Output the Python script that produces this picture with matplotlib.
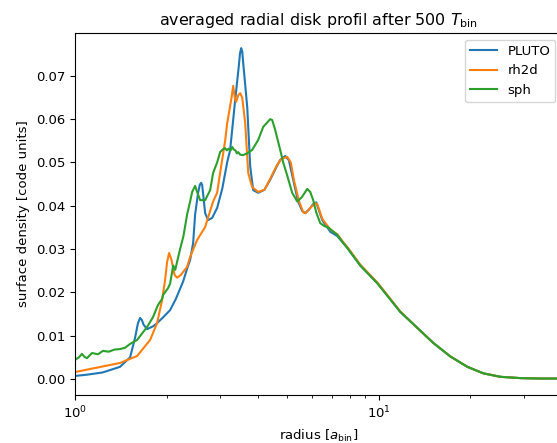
import matplotlib
matplotlib.use("Agg")
import matplotlib.pyplot as plt

# PLUTO
r_pluto = [1.0, 1.097, 1.232, 1.406, 1.518, 1.576, 1.61, 1.637, 1.66, 1.679,
           1.726, 1.810, 1.862, 1.934, 2.055, 2.147, 2.268, 2.338, 2.392,
           2.447, 2.484, 2.541, 2.575, 2.600, 2.62, 2.639, 2.680, 2.742,
           2.826, 2.935, 3.052, 3.166, 3.239, 3.364, 3.455, 3.49, 3.522,
           3.55, 3.575, 3.686, 3.771, 3.857, 4.006, 4.200, 4.386, 4.602,
           4.732, 4.916, 5.054, 5.222, 5.417, 5.590, 5.719, 5.898, 6.076,
           6.216, 6.506, 6.914, 7.291, 7.628, 7.863, 8.679, 9.872, 11.75,
           13.37, 15.10, 17.17, 19.54, 22.05, 25.08, 29.19, 33.97, 40.0]
s_pluto = [0.0007, 0.0010, 0.0015, 0.0028, 0.0050, 0.0095, 0.0128, 0.0141,
           0.0136, 0.0126, 0.0115, 0.0122, 0.0129, 0.0140, 0.0159, 0.0185,
           0.0225, 0.0255, 0.0275, 0.0314, 0.0380, 0.0430, 0.0449, 0.0453,
           0.0448, 0.0428, 0.0383, 0.0367, 0.0372, 0.0395, 0.0440, 0.0500,
           0.0529, 0.0644, 0.0720, 0.0752, 0.0764, 0.0756, 0.0730, 0.0628,
           0.0490, 0.0436, 0.0430, 0.0437, 0.0460, 0.0490, 0.0506, 0.0515,
           0.0505, 0.0460, 0.0410, 0.0388, 0.0383, 0.0392, 0.0404, 0.0408,
           0.0367, 0.0340, 0.0330, 0.0314, 0.0303, 0.0262, 0.0222, 0.0155,
           0.0118, 0.0083, 0.0052, 0.0028, 0.0013, 0.0005, 0.0002, 0.0001,
           0.0001]

# rh2d
r_rh2d = [1.0, 1.406, 1.600, 1.766, 1.862, 1.934, 1.979, 2.009, 2.040,
          2.077, 2.127, 2.167, 2.228, 2.338, 2.392, 2.522, 2.680, 2.847,
          2.935, 3.002, 3.118, 3.166, 3.274, 3.314, 3.354, 3.390, 3.442,
          3.495, 3.548, 3.630, 3.714, 3.827, 4.006, 4.200, 4.386, 4.602,
          4.767, 4.989, 5.130, 5.247, 5.460, 5.633, 5.737, 5.940, 6.169,
          6.263, 6.506, 6.914, 7.291, 7.628, 7.863, 8.679, 9.872, 11.75,
          13.37, 15.10, 17.17, 19.54, 22.05, 25.08, 29.19, 33.97, 40.0]
s_rh2d = [0.0016, 0.0037, 0.0053, 0.0090, 0.0129, 0.0182, 0.0229, 0.0270,
          0.0291, 0.0275, 0.0240, 0.0234, 0.0240, 0.0259, 0.0282, 0.0321,
          0.0351, 0.0410, 0.0430, 0.0476, 0.0550, 0.0590, 0.0650, 0.0677,
          0.0650, 0.0640, 0.0655, 0.0660, 0.0650, 0.0591, 0.0476, 0.0443,
          0.0432, 0.0437, 0.0462, 0.0492, 0.0508, 0.0513, 0.0500, 0.0460,
          0.0410, 0.0385, 0.0383, 0.0395, 0.0406, 0.0404, 0.0370, 0.0345,
          0.0334, 0.0316, 0.0305, 0.0264, 0.0223, 0.0156, 0.0118, 0.0083,
          0.0052, 0.0028, 0.0013, 0.0005, 0.0002, 0.0001, 0.0001]

# sph
r_sph = [1.0, 1.03, 1.054, 1.075, 1.095, 1.138, 1.19, 1.236, 1.29, 1.35,
         1.406, 1.46, 1.518, 1.600, 1.726, 1.806, 1.862, 1.876, 1.934,
         1.949, 2.024, 2.055, 2.104, 2.136, 2.217, 2.274, 2.338, 2.392,
         2.429, 2.484, 2.513, 2.580, 2.680, 2.783, 2.847, 2.935, 3.002,
         3.060, 3.118, 3.160, 3.202, 3.244, 3.289, 3.328, 3.369, 3.410,
         3.442, 3.495, 3.575, 3.703, 3.827, 4.006, 4.159, 4.386, 4.454,
         4.556, 4.732, 4.841, 4.989, 5.182, 5.383, 5.577, 5.807, 5.940,
         6.076, 6.216, 6.407, 6.612, 6.809, 7.291, 7.628, 7.863, 8.679,
         9.872, 11.75, 13.37, 15.10, 17.17, 19.54, 22.05, 25.08, 29.19,
         33.97, 40.0]
s_sph = [0.0044, 0.0050, 0.0058, 0.0051, 0.0048, 0.0060, 0.0057, 0.0065,
         0.0063, 0.0068, 0.0069, 0.0072, 0.0081, 0.0090, 0.0120, 0.0143,
         0.0166, 0.0171, 0.0185, 0.0194, 0.0210, 0.0220, 0.0262, 0.0252,
         0.0300, 0.0330, 0.0380, 0.0410, 0.0432, 0.0446, 0.0435, 0.0413,
         0.0413, 0.0436, 0.0476, 0.0500, 0.0524, 0.0530, 0.0533, 0.0528,
         0.0532, 0.0527, 0.0536, 0.0530, 0.0528, 0.0521, 0.0524, 0.0518,
         0.0517, 0.0522, 0.0529, 0.0552, 0.0582, 0.0600, 0.0598, 0.0575,
         0.0529, 0.0500, 0.0470, 0.0430, 0.0410, 0.0420, 0.0439, 0.0432,
         0.0413, 0.0385, 0.0360, 0.0353, 0.0350, 0.0333, 0.0314, 0.0303,
         0.0262, 0.0221, 0.0155, 0.0118, 0.0083, 0.0052, 0.0028, 0.0013,
         0.0005, 0.0002, 0.0001, 0.0001]

plt.rcParams['font.size'] = 9.5

fig = plt.figure(figsize=(5.57, 4.43), dpi=100)
# the right spine sits just outside the picture, as in the reference crop
ax = fig.add_axes([75 / 557, 48 / 443, 487 / 557, 362 / 443])

ax.plot(r_pluto, s_pluto, label='PLUTO')
ax.plot(r_rh2d, s_rh2d, label='rh2d')
ax.plot(r_sph, s_sph, label='sph')

ax.set_xscale('log')
ax.set_xlim(1, 40)
ax.set_ylim(-0.0037, 0.0799)

ax.set_title(r'averaged radial disk profil after 500 $T_{\rm bin}$')
ax.set_xlabel(r'radius [$a_{\rm bin}$]', labelpad=4.5)
ax.set_ylabel('surface density [code units]')
ax.legend(loc='upper right')

fig.savefig('out.png', dpi=100)
